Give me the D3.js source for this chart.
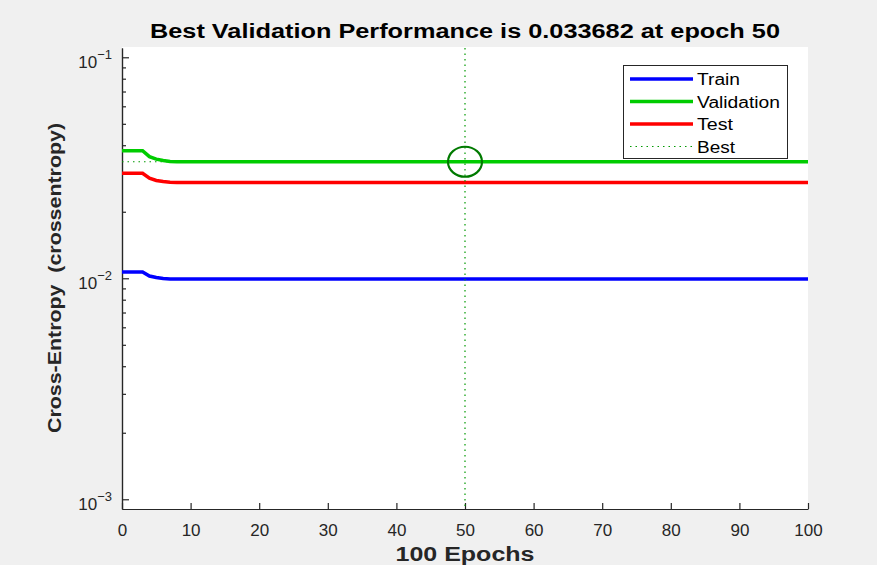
<!DOCTYPE html>
<html>
<head>
<meta charset="utf-8">
<script src="https://cdn.jsdelivr.net/npm/d3@7"></script>
<style>
  body { margin: 0; background: #f0f0f0; }
  svg { display: block; font-family: "Liberation Sans", Arial, Helvetica, sans-serif; }
</style>
</head>
<body>
<div id="chart"></div>
<script>
// Data
const epochs = [0, 1, 2, 3, 4, 5, 6, 7, 8, 9, 10, 20, 30, 40, 50, 60, 70, 80, 90, 100];
const trainPerf = [0.01068, 0.01068, 0.01068, 0.01068, 0.01024, 0.01008, 0.00998, 0.00993, 0.00992, 0.00992, 0.00992,
  0.00992, 0.00992, 0.00992, 0.00992, 0.00992, 0.00992, 0.00992, 0.00992, 0.00992];
const valPerf = [0.0378, 0.0378, 0.0378, 0.0378, 0.0355, 0.0346, 0.0341, 0.03375, 0.0337, 0.03369, 0.03369,
  0.03368, 0.03368, 0.03368, 0.033682, 0.03368, 0.03368, 0.03368, 0.03368, 0.03368];
const testPerf = [0.02985, 0.02985, 0.02985, 0.02985, 0.02835, 0.0277, 0.0274, 0.0272, 0.0271, 0.0271, 0.0271,
  0.0271, 0.0271, 0.0271, 0.0271, 0.0271, 0.0271, 0.0271, 0.0271, 0.0271];
const bestEpoch = 50;
const bestPerf = 0.033682;

const xTicks = [0, 10, 20, 30, 40, 50, 60, 70, 80, 90, 100];
const yTicks = [1e-3, 1e-2, 1e-1];
const yTickExp = ["-3", "-2", "-1"];
const legendNames = ["Train", "Validation", "Test", "Best"];

const width = 877, height = 565;
const pLeft = 122, pRight = 808, pTop = 48, pBottom = 509;

const svg = d3.select("#chart").append("svg")
  .attr("width", width)
  .attr("height", height);

const x = d3.scaleLinear().domain([0, 100]).range([pLeft, pRight]);
const y = d3.scaleLog().domain([Math.pow(10, -3.044), Math.pow(10, -0.958)]).range([pBottom, pTop]);

// white plot box
svg.append("rect")
  .attr("x", pLeft).attr("y", pTop - 1)
  .attr("width", pRight - pLeft).attr("height", pBottom - pTop + 1)
  .attr("fill", "#fff");

// title
svg.append("text")
  .attr("x", 465).attr("y", 38)
  .attr("text-anchor", "middle")
  .attr("font-size", 20).attr("font-weight", "bold")
  .attr("fill", "#000")
  .attr("textLength", 630).attr("lengthAdjust", "spacingAndGlyphs")
  .text("Best Validation Performance is " + bestPerf + " at epoch " + bestEpoch);

// axes
const xAxis = svg.append("g")
  .attr("transform", `translate(0,${pBottom})`)
  .call(d3.axisBottom(x).tickValues(xTicks).tickSize(-6).tickSizeOuter(0).tickPadding(15));
xAxis.attr("font-family", null);
xAxis.selectAll("text").attr("font-size", 17).attr("fill", "#262626");

const minorTicks = [];
[1e-3, 1e-2].forEach(d => { for (let k = 2; k <= 9; k++) minorTicks.push(d * k); });

svg.append("g")
  .attr("transform", `translate(${pLeft},0)`)
  .call(d3.axisLeft(y).tickValues(minorTicks).tickSize(-4).tickSizeOuter(0).tickFormat(""));
svg.append("g")
  .attr("transform", `translate(${pLeft},0)`)
  .call(d3.axisLeft(y).tickValues(yTicks).tickSize(-7).tickSizeOuter(0).tickFormat(""));

svg.selectAll(".domain, .tick line").attr("stroke", "#262626").attr("stroke-width", 1.2);

// y tick labels 10^n
yTicks.forEach((d, i) => {
  const t = svg.append("text")
    .attr("x", 112).attr("y", y(d) + 11)
    .attr("text-anchor", "end")
    .attr("font-size", 17).attr("fill", "#262626");
  t.append("tspan").text("10");
  t.append("tspan").attr("font-size", 13).attr("dy", -9).text(yTickExp[i].replace("-", "\u2212"));
});

// axis titles
svg.append("text")
  .attr("transform", `translate(61,${278}) rotate(-90)`)
  .attr("text-anchor", "middle")
  .style("white-space", "pre")
  .attr("font-size", 19).attr("font-weight", "bold").attr("fill", "#262626")
  .attr("textLength", 310).attr("lengthAdjust", "spacingAndGlyphs")
  .text("Cross-Entropy  (crossentropy)");

svg.append("text")
  .attr("x", 465).attr("y", 561)
  .attr("text-anchor", "middle")
  .attr("font-size", 20).attr("font-weight", "bold").attr("fill", "#262626")
  .attr("textLength", 139).attr("lengthAdjust", "spacingAndGlyphs")
  .text("100 Epochs");

// best markers
const bestColor = "#009900";
svg.append("line")
  .attr("x1", x(0)).attr("x2", x(100))
  .attr("y1", y(bestPerf)).attr("y2", y(bestPerf))
  .attr("stroke", bestColor).attr("stroke-width", 1.2).attr("stroke-dasharray", "1.5,4");

const line = d3.line().x((d, i) => x(epochs[i])).y(d => y(d));
const series = [
  { values: trainPerf, color: "#0000ff" },
  { values: valPerf, color: "#00cc00" },
  { values: testPerf, color: "#ff0000" }
];
series.forEach(s => {
  svg.append("path")
    .attr("d", line(s.values))
    .attr("fill", "none")
    .attr("stroke", s.color)
    .attr("stroke-width", 3.5);
});

svg.append("line")
  .attr("x1", x(bestEpoch)).attr("x2", x(bestEpoch))
  .attr("y1", pTop).attr("y2", pBottom)
  .attr("stroke", bestColor).attr("stroke-width", 1.2).attr("stroke-dasharray", "1.5,4");

svg.append("ellipse")
  .attr("cx", x(bestEpoch)).attr("cy", y(bestPerf))
  .attr("rx", 17).attr("ry", 15)
  .attr("fill", "none").attr("stroke", "#007a00").attr("stroke-width", 2.2);

// legend
const lg = svg.append("g");
lg.append("rect")
  .attr("x", 623.5).attr("y", 65.5).attr("width", 164).attr("height", 93)
  .attr("fill", "#fff").attr("stroke", "#262626").attr("stroke-width", 1);
const legendColors = ["#0000ff", "#00cc00", "#ff0000", bestColor];
const legendWidths = [43, 83, 36, 38];
legendNames.forEach((name, i) => {
  const ly = 79 + i * 22.5;
  const ln = lg.append("line")
    .attr("x1", 630).attr("x2", 693)
    .attr("y1", ly).attr("y2", ly)
    .attr("stroke", legendColors[i]);
  if (i < 3) ln.attr("stroke-width", 3.5);
  else ln.attr("stroke-width", 1.2).attr("stroke-dasharray", "1.5,4");
  lg.append("text")
    .attr("x", 697).attr("y", ly + 6)
    .attr("font-size", 16).attr("fill", "#000")
    .attr("textLength", legendWidths[i]).attr("lengthAdjust", "spacingAndGlyphs")
    .text(name);
});
</script>
</body>
</html>
